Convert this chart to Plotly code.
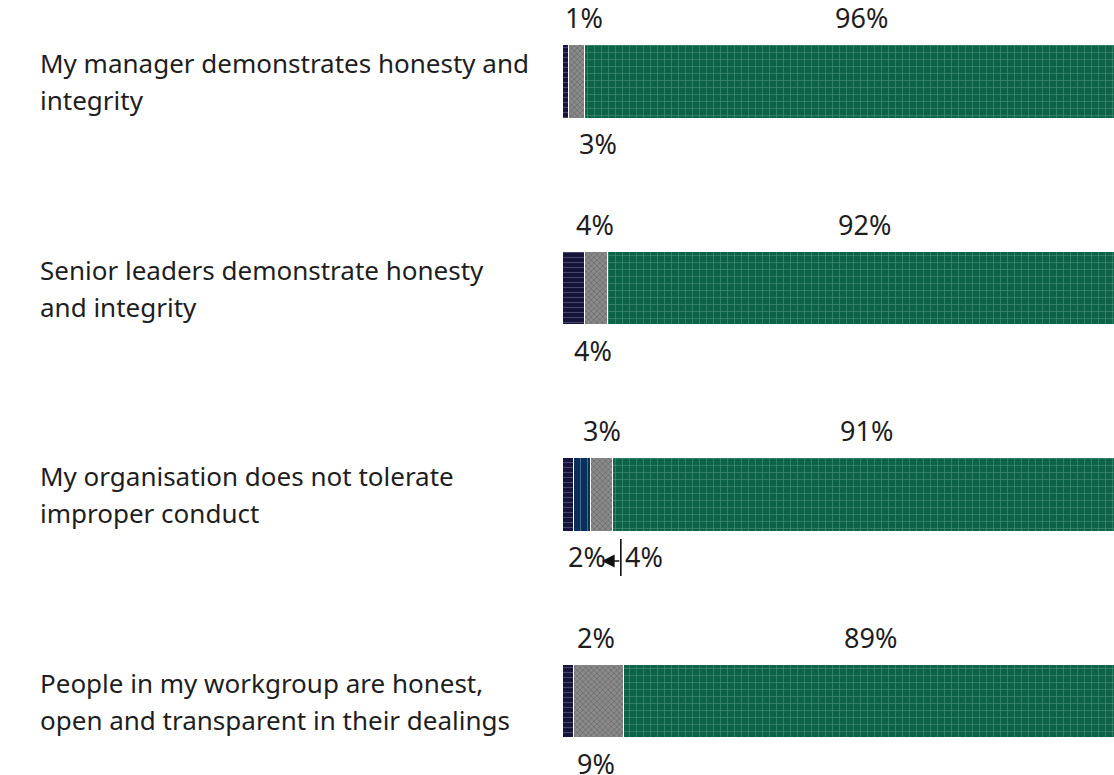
import plotly.graph_objects as go

questions = [
    "My manager demonstrates honesty and<br>integrity",
    "Senior leaders demonstrate honesty<br>and integrity",
    "My organisation does not tolerate<br>improper conduct",
    "People in my workgroup are honest,<br>open and transparent in their dealings",
]
disagree = [1, 4, 2, 2]
dont_know = [0, 0, 3, 0]
neutral = [3, 4, 4, 9]
agree = [96, 92, 91, 89]

series = [
    ("Disagree", disagree, dict(bg="#16133a", fg="#77749a", shape="-", size=5, solidity=0.22)),
    ("Don't know", dont_know, dict(bg="#0a2f5a", fg="#8fa6c4", shape="|", size=7, solidity=0.15)),
    ("Neither agree nor disagree", neutral, dict(bg="#8a8a8a", fg="#4a4a4a", shape="x", size=4, solidity=0.35)),
    ("Agree", agree, dict(bg="#0c6348", fg="#86c0ab", shape="+", size=7, solidity=0.16)),
]

# label placement per question: (series index, position, pixel nudge)
label_plan = [
    [(0, "above", 18), (2, "below", 21), (3, "above", 9)],
    [(0, "above", 21), (2, "below", -3), (3, "above", 1)],
    [(0, "below", 18), (1, "above", 20), (2, "below", 42), (3, "above", 0)],
    [(0, "above", 27), (2, "below", -3), (3, "above", -1)],
]

FONT = "Noto Sans"
TXT = "#1e1e1e"
ypos = list(range(len(questions)))

fig = go.Figure()
for name, vals, st in series:
    fig.add_trace(go.Bar(
        y=ypos, x=vals, name=name, orientation="h", width=0.358,
        marker=dict(
            color=st["bg"],
            line=dict(color="white", width=1.5),
            pattern=dict(shape=st["shape"], bgcolor=st["bg"], fgcolor=st["fg"],
                         size=st["size"], solidity=st["solidity"], fillmode="overlay"),
        ),
        hoverinfo="skip",
    ))

annotations = []
for qi, plan in enumerate(label_plan):
    starts = []
    acc = 0
    for _, vals, _ in series:
        starts.append(acc)
        acc += vals[qi]
    for si, pos, nudge in plan:
        v = series[si][1][qi]
        mid = starts[si] + v / 2
        annotations.append(dict(
            x=mid, y=qi, xref="x", yref="y", text=f"{v}%", showarrow=False,
            xanchor="center", yanchor="middle", xshift=nudge,
            yshift=64 if pos == "above" else -62,
            font=dict(family=FONT, size=27, color=TXT),
        ))

# row labels (two lines each)
for qi, q in enumerate(questions):
    lines = q.split("<br>")
    for li, line in enumerate(lines):
        annotations.append(dict(
            x=0, y=qi, xref="paper", yref="y", text=line, showarrow=False,
            xanchor="left", yanchor="middle", xshift=-525,
            yshift=18.5 - 37 * li,
            font=dict(family=FONT, size=26, color=TXT),
        ))

# leader arrow for the crowded third row
q3_start_neutral = disagree[2] + dont_know[2]
annotations.append(dict(
    x=q3_start_neutral, y=2, xref="x", yref="y", text="", showarrow=True,
    arrowhead=2, arrowsize=1.6, arrowwidth=1.6, arrowcolor="#111",
    ax=19, ay=0, xshift=11, yshift=-66,
))

shapes = [dict(
    type="line", xref="x", yref="y", xsizemode="pixel", ysizemode="pixel",
    xanchor=q3_start_neutral, yanchor=2, x0=30, x1=30, y0=-44, y1=-81,
    line=dict(color="#111", width=1.6),
)]

fig.update_layout(
    width=1114, height=775,
    margin=dict(l=563, r=0, t=0, b=0),
    paper_bgcolor="white", plot_bgcolor="white",
    barmode="stack", bargap=0, showlegend=False,
    xaxis=dict(range=[0, 99], visible=False, fixedrange=True),
    yaxis=dict(range=[3.356, -0.397], visible=False, fixedrange=True),
    annotations=annotations, shapes=shapes,
)

fig.write_html("out.html", config={"displayModeBar": False})

with open("out.html", encoding="utf-8") as f:
    html = f.read()
html = html.replace("<head>", "<head><style>html,body{margin:0;padding:0;overflow:hidden;}</style>", 1)
with open("out.html", "w", encoding="utf-8") as f:
    f.write(html)
